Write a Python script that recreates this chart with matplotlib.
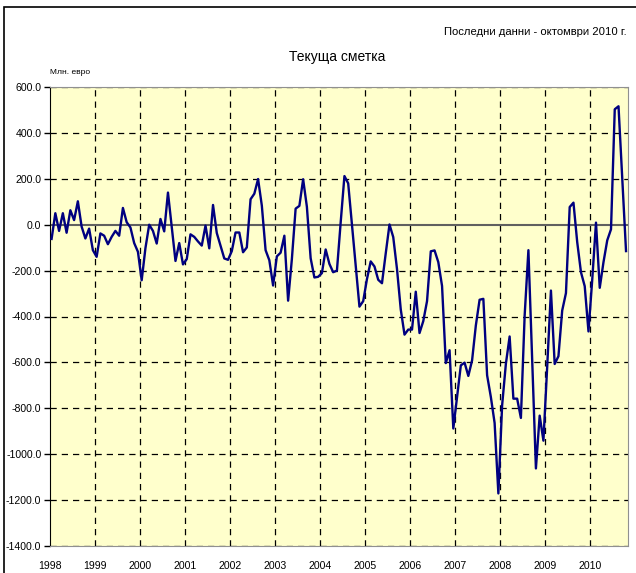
import matplotlib
matplotlib.use("Agg")
import matplotlib.pyplot as plt
from matplotlib.patches import Rectangle

# monthly current account, Jan 1998 - Oct 2010 (mln EUR)
years = [str(y) for y in range(1998, 2011)]
values = [
    -62, 50, -27, 50, -35, 63, 20, 102, -8, -60, -17, -111,
    -140, -38, -48, -85, -53, -27, -48, 73, 11, -12, -80, -118,
    -242, -102, 0, -27, -82, 25, -29, 140, -10, -158, -80, -173,
    -150, -42, -53, -73, -91, -4, -103, 86, -36, -92, -147, -153,
    -115, -34, -34, -120, -99, 111, 135, 199, 83, -111, -155, -265,
    -138, -122, -48, -331, -150, 70, 82, 198, 78, -146, -230, -227,
    -211, -108, -171, -207, -200, 10, 212, 180, 0, -180, -357, -333,
    -237, -160, -182, -240, -255, -125, 1, -54, -193, -369, -479, -457,
    -457, -292, -472, -420, -333, -116, -112, -163, -267, -603, -547, -888,
    -750, -613, -601, -659, -591, -439, -327, -323, -656, -751, -864, -1171,
    -787, -606, -487, -758, -758, -842, -396, -111, -580, -1062, -832, -941,
    -620, -287, -607, -573, -374, -298, 77, 96, -76, -207, -268, -465,
    -240, 9, -275, -163, -68, -20, 503, 516, 200, -115,
]
yticks = list(range(-1400, 601, 200))

plt.rcParams['font.family'] = ['Liberation Sans', 'DejaVu Sans']

fig = plt.figure(figsize=(6.36, 5.73), dpi=100)
fig.patches.append(Rectangle((4 / 636, -0.1), 1.2, 1.1 - 7 / 573, transform=fig.transFigure,
                             fill=False, edgecolor='black', linewidth=1.2))

ax = fig.add_axes([49.7 / 636, 1 - 546 / 573, 578.2 / 636, 459 / 573])
ax.set_facecolor('#FFFFCC')

x = list(range(len(values)))
ax.set_xlim(-0.5, len(values) - 0.5)
ax.set_ylim(-1400, 600)

# grid
bounds = [12 * k - 0.5 for k in range(len(years))]
for b in bounds[1:]:
    ax.axvline(b, color='black', linewidth=0.9, dashes=(5, 4), zorder=1)
for t in yticks:
    if t != 0:
        ax.axhline(t, color='black', linewidth=0.9, dashes=(5, 4), zorder=1)
ax.axhline(0, color='#606060', linewidth=1.5, zorder=2)

ax.plot(x, values, color='#000080', linewidth=1.7, zorder=3)

ax.set_yticks(yticks)
ax.set_yticklabels(['%.1f' % t for t in yticks], fontsize=7.6)
ax.set_xticks(bounds)
ax.set_xticklabels(years, fontsize=7.6)
ax.tick_params(axis='x', length=0, pad=11)
ax.tick_params(axis='y', length=4, width=1, direction='out', pad=2)

for s in ['top', 'right', 'bottom']:
    ax.spines[s].set_color('#909090')
ax.spines['left'].set_color('black')

fig.text(627 / 636, 1 - 32 / 573, 'Последни данни - октомври 2010 г.', ha='right', va='center', fontsize=8.1)
fig.text(337 / 636, 1 - 57 / 573, 'Текуща сметка', ha='center', va='center', fontsize=10)
fig.text(50 / 636, 1 - 72 / 573, 'Млн. евро', ha='left', va='center', fontsize=6)

fig.savefig('out.png', dpi=100)
